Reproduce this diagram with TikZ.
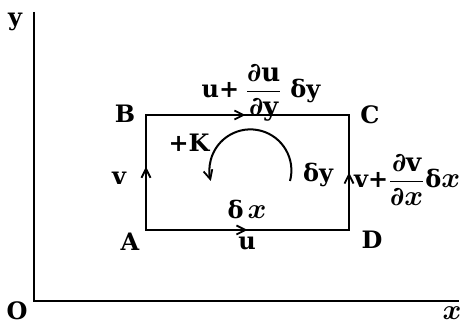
\documentclass[tikz,border=0pt]{standalone}
\usepackage{amsmath}
\usepackage{bm}
\usepackage{fontspec}
\setmainfont{DejaVu Serif}
\usetikzlibrary{arrows.meta,decorations.markings}
\newcommand\bxx{\scalebox{1.15}{$\bm{x}$}}
\newcommand\fpart[1]{\text{\fontsize{26}{28}\selectfont #1}}
\tikzset{barb/.tip={Straight Barb[length=9pt,width=9pt,line width=1.8pt]}}
\begin{document}
\begin{tikzpicture}[x=1pt,y=-1pt,
  lbl/.style={font=\fontsize{24}{27}\selectfont\bfseries, inner sep=0pt},
  axis/.style={line width=2.6pt},
  box/.style={line width=2.2pt},
  midarrow/.style={postaction={decorate},decoration={markings,
     mark=at position #1 with {\arrow{barb}}}}]
\useasboundingbox (0,0) rectangle (475,326);
% axes
\coordinate (oy) at (34,12);
\coordinate (o) at (34,301);
\coordinate (ox) at (459,301);
\draw[axis] (oy) -- (o) -- (ox);
\node[lbl] (ly) at (15,22) {y};
\node[lbl] (lo) at (17,311) {O};
\node[lbl,anchor=base] (lx) at (452,320) {\bxx};
% rectangle corners
\coordinate (A) at (146,230);
\coordinate (B) at (146,115);
\coordinate (C) at (349,115);
\coordinate (D) at (349,230);
\draw[box] (A) -- (B) -- (C) -- (D) -- cycle;
\draw[box,midarrow=0.50] (A) -- (D);
\draw[box,midarrow=0.49] (B) -- (C);
\draw[box,midarrow=0.55] (A) -- (B);
\draw[box,midarrow=0.50] (D) -- (C);
\node[lbl] (nA) at (130,242) {A};
\node[lbl] (nB) at (125,114) {B};
\node[lbl] (nC) at (370,115) {C};
\node[lbl] (nD) at (372,240) {D};
% labels
\node[lbl,anchor=base] (top) at (261,98) {u+\hspace{7pt}$\dfrac{\fpart{∂u}}{\fpart{∂y}}$\hspace{9pt}δy};
\node[lbl] (lv) at (119,178) {v};
\node[lbl,anchor=base west] (rv) at (354,188) {v+\hspace{1pt}$\dfrac{\fpart{∂v}}{\fpart{∂\bxx}}$\hspace{1pt}δ\bxx};
\node[lbl] (dy) at (318,175) {δy};
\node[lbl] (dx) at (247,209) {δ\,\bxx};
\node[lbl] (bu) at (247,243) {u};
\node[lbl] (K) at (189,143) {+K};
% rotation arrow
\draw[line width=2pt,-{barb}]
  (290,181) arc[start angle=15, end angle=-195, radius=41];
\end{tikzpicture}
\end{document}
